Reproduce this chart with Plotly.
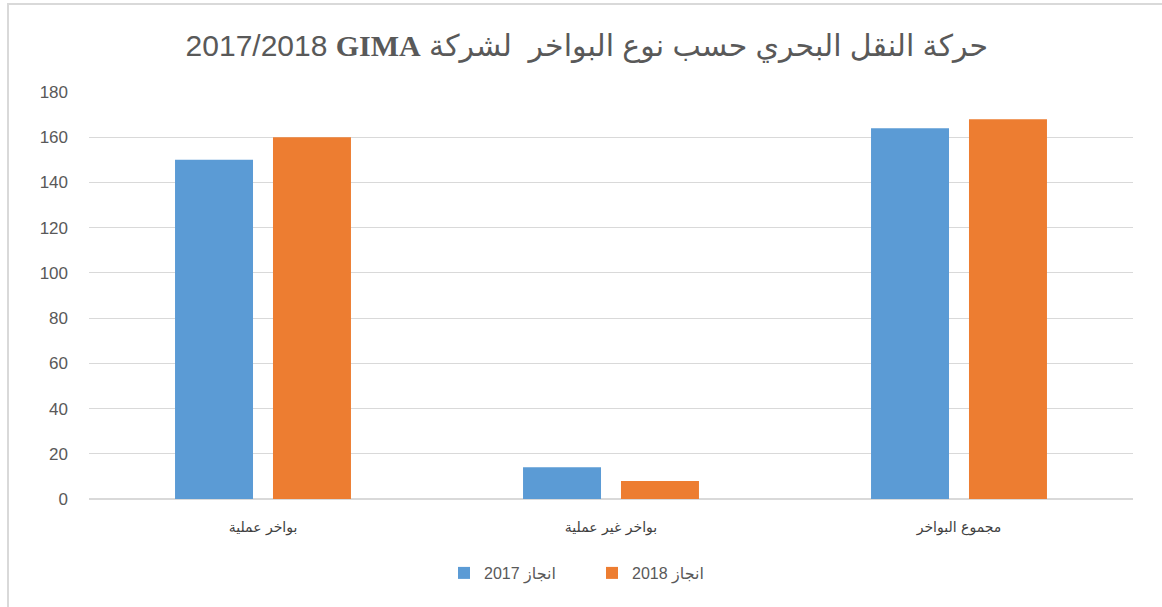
import plotly.graph_objects as go

categories = ["بواخر عملية", "بواخر غير عملية", "مجموع البواخر"]
series_names = ["انجاز 2017", "انجاز 2018"]
values_2017 = [150, 14, 164]
values_2018 = [160, 8, 168]
y_ticks = [0, 20, 40, 60, 80, 100, 120, 140, 160, 180]
title_arabic = "حركة النقل البحري حسب نوع البواخر  لشركة"
title_company = "GIMA"
title_years = "2017/2018"

RLE, PDF, RLM = "\u202b", "\u202c", "\u200f"
colors = ["#5b9bd5", "#ed7d31"]
grey = "#595959"
font_fam = "Liberation Sans, Arial, DejaVu Sans, sans-serif"

title_full = (RLE + title_arabic + " "
              + '<span style="font-family:Liberation Serif"><b>' + title_company + "</b></span>"
              + " " + RLM + title_years + PDF)

fig = go.Figure()
for name, vals, col in zip(series_names, [values_2017, values_2018], colors):
    fig.add_trace(go.Bar(
        x=categories, y=vals, name=RLE + name + PDF,
        marker=dict(color=col, line=dict(width=0)),
    ))

fig.update_layout(
    width=1162, height=607,
    margin=dict(l=89, r=29, t=92, b=108),
    paper_bgcolor="white", plot_bgcolor="white",
    barmode="group", bargap=0.437, bargroupgap=0.204,
    font=dict(family=font_fam, color=grey),
    title=dict(text=title_full, x=0.505, xref="container", xanchor="center",
               y=1 - 45 / 607, yref="container", yanchor="middle",
               font=dict(size=30, color=grey, family=font_fam)),
    showlegend=True,
    legend=dict(orientation="h", x=(444 - 89) / 1044, xanchor="left", y=-(573 - 499) / 407,
                yanchor="middle", font=dict(size=16, color=grey), traceorder="normal",
                itemwidth=30, entrywidth=103, entrywidthmode="pixels"),
    xaxis=dict(showgrid=False, showline=False, ticks="",
               tickfont=dict(size=14, color="#404040", family="DejaVu Sans"),
               ticklabelstandoff=18),
    yaxis=dict(range=[0, 180], tickvals=y_ticks, showgrid=True, gridcolor="#d9d9d9",
               gridwidth=1, zeroline=True, zerolinecolor="#d9d9d9", showline=False,
               tickfont=dict(size=17, color=grey), ticklabelstandoff=20),
    shapes=[dict(type="rect", xref="paper", yref="paper",
                 x0=(8 - 89) / 1044, x1=(1175 - 89) / 1044,
                 y0=(499 - 620) / 407, y1=(499 - 4) / 407,
                 line=dict(color="#d9d9d9", width=2), fillcolor="rgba(0,0,0,0)", layer="below")],
)

fig.write_html("out.html", config={"displayModeBar": False},
               post_script="document.body.style.margin='0';")
